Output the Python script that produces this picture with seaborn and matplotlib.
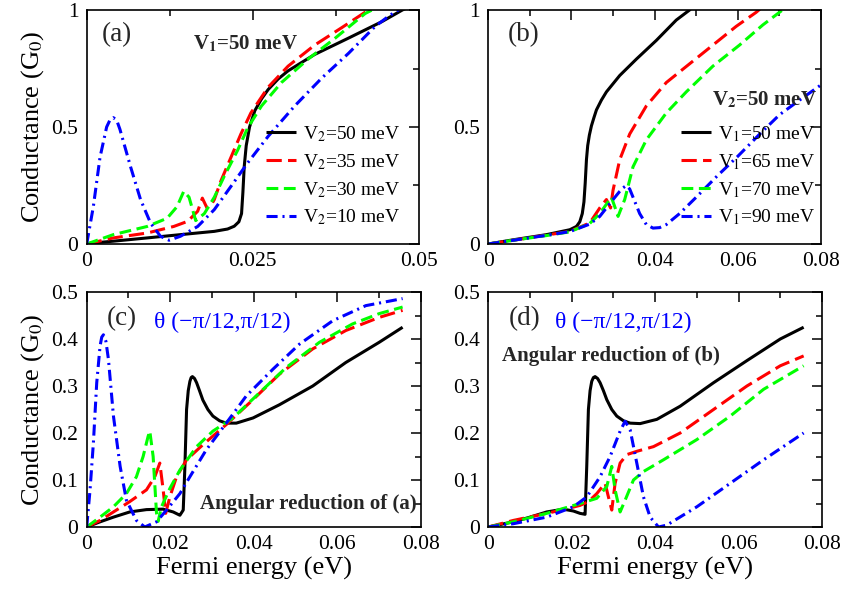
import matplotlib
matplotlib.use("Agg")
import matplotlib.pyplot as plt
import numpy as np
import pandas as pd
import seaborn as sns
from matplotlib.ticker import FixedLocator, FixedFormatter, MultipleLocator

# ---------------- data ----------------
# panel (a): V1 = 50 meV, varying V2
a50_x = [0, 0.002, 0.004, 0.0091, 0.0141, 0.0192, 0.0212, 0.0222, 0.0229, 0.0233, 0.0235, 0.0237, 0.0240, 0.0245, 0.0253, 0.0263, 0.0273, 0.0288, 0.0303, 0.0343, 0.0394, 0.0444, 0.0475, 0.049]
a50_y = [0, 0.007, 0.012, 0.026, 0.040, 0.054, 0.064, 0.076, 0.095, 0.13, 0.22, 0.33, 0.42, 0.50, 0.57, 0.62, 0.66, 0.705, 0.74, 0.81, 0.88, 0.95, 1.0, 1.02]
a35_x = [0, 0.004, 0.0091, 0.0131, 0.0152, 0.0167, 0.0174, 0.0181, 0.0187, 0.0192, 0.0202, 0.0217, 0.0232, 0.0247, 0.0273, 0.0303, 0.0343, 0.0384, 0.0424, 0.045]
a35_y = [0, 0.026, 0.047, 0.075, 0.097, 0.14, 0.196, 0.154, 0.165, 0.19, 0.27, 0.37, 0.47, 0.56, 0.67, 0.76, 0.85, 0.925, 1.0, 1.04]
a30_x = [0, 0.004, 0.0091, 0.0121, 0.0136, 0.0146, 0.0154, 0.0164, 0.0177, 0.0192, 0.0207, 0.0227, 0.0242, 0.0263, 0.0293, 0.0333, 0.0374, 0.0419, 0.045]
a30_y = [0, 0.04, 0.075, 0.11, 0.16, 0.225, 0.20, 0.10, 0.13, 0.20, 0.29, 0.40, 0.495, 0.59, 0.69, 0.79, 0.88, 0.985, 1.03]
a10_x = [0, 0.001, 0.002, 0.003, 0.0035, 0.004, 0.0045, 0.005, 0.0066, 0.0081, 0.0096, 0.0111, 0.0124, 0.0141, 0.0167, 0.0192, 0.0217, 0.0242, 0.0273, 0.0313, 0.0354, 0.0394, 0.0434, 0.0455, 0.048]
a10_y = [0, 0.16, 0.37, 0.50, 0.53, 0.54, 0.53, 0.49, 0.33, 0.19, 0.09, 0.033, 0.016, 0.033, 0.075, 0.147, 0.246, 0.346, 0.46, 0.59, 0.71, 0.815, 0.93, 0.975, 1.02]

# panel (b): V2 = 50 meV, varying V1
b50_x = [0, 0.006, 0.014, 0.0196, 0.0212, 0.0220, 0.0226, 0.0230, 0.0233, 0.0236, 0.0239, 0.0243, 0.0248, 0.0254, 0.026, 0.0272, 0.0284, 0.0316, 0.0356, 0.0404, 0.0452, 0.0484, 0.05]
b50_y = [0, 0.018, 0.04, 0.061, 0.075, 0.095, 0.13, 0.18, 0.26, 0.36, 0.42, 0.465, 0.505, 0.54, 0.573, 0.615, 0.65, 0.72, 0.79, 0.87, 0.957, 1.0, 1.03]
b65_x = [0, 0.006, 0.014, 0.0196, 0.0244, 0.0268, 0.0284, 0.0294, 0.030, 0.0316, 0.034, 0.038, 0.0428, 0.0484, 0.054, 0.0596, 0.0644, 0.067]
b65_y = [0, 0.016, 0.038, 0.054, 0.09, 0.154, 0.19, 0.154, 0.23, 0.36, 0.47, 0.59, 0.69, 0.77, 0.85, 0.93, 0.99, 1.03]
b70_x = [0, 0.006, 0.014, 0.0196, 0.0244, 0.0268, 0.0288, 0.0296, 0.0304, 0.0312, 0.0328, 0.0348, 0.038, 0.0428, 0.0476, 0.054, 0.0604, 0.066, 0.07, 0.073]
b70_y = [0, 0.016, 0.036, 0.052, 0.088, 0.13, 0.18, 0.20, 0.16, 0.118, 0.19, 0.33, 0.445, 0.56, 0.65, 0.76, 0.85, 0.936, 0.99, 1.03]
b90_x = [0, 0.006, 0.014, 0.0196, 0.0244, 0.0268, 0.030, 0.0316, 0.0324, 0.0332, 0.034, 0.0348, 0.0364, 0.038, 0.0396, 0.0412, 0.0428, 0.046, 0.05, 0.055, 0.06, 0.065, 0.07, 0.075, 0.08]
b90_y = [0, 0.016, 0.037, 0.053, 0.085, 0.118, 0.19, 0.225, 0.24, 0.25, 0.235, 0.20, 0.13, 0.083, 0.068, 0.07, 0.083, 0.13, 0.20, 0.29, 0.375, 0.465, 0.552, 0.617, 0.68]

# panel (c): angular reduction of (a)
c50_x = [0, 0.0032, 0.0064, 0.0103, 0.0143, 0.0183, 0.0207, 0.0223, 0.0231, 0.0235, 0.0239, 0.0243, 0.0247, 0.025, 0.0253, 0.0258, 0.0263, 0.027, 0.0278, 0.029, 0.0302, 0.0318, 0.0334, 0.0358, 0.0398, 0.0461, 0.0541, 0.062, 0.07, 0.0756]
c50_y = [0, 0.011, 0.021, 0.032, 0.037, 0.038, 0.032, 0.025, 0.036, 0.129, 0.25, 0.29, 0.31, 0.318, 0.32, 0.316, 0.307, 0.29, 0.27, 0.25, 0.236, 0.226, 0.221, 0.221, 0.232, 0.26, 0.30, 0.35, 0.393, 0.425]
c35_x = [0, 0.0032, 0.0064, 0.0103, 0.0143, 0.0163, 0.0175, 0.0183, 0.0189, 0.0199, 0.0215, 0.0239, 0.0278, 0.0334, 0.0398, 0.0461, 0.0541, 0.062, 0.07, 0.0756]
c35_y = [0, 0.014, 0.032, 0.054, 0.079, 0.107, 0.136, 0.079, 0.029, 0.064, 0.107, 0.143, 0.175, 0.218, 0.271, 0.325, 0.379, 0.418, 0.446, 0.461]
c30_x = [0, 0.0032, 0.0064, 0.0095, 0.0119, 0.0135, 0.0147, 0.0151, 0.0159, 0.0167, 0.0171, 0.0179, 0.0199, 0.0223, 0.0263, 0.0302, 0.035, 0.0414, 0.0477, 0.0557, 0.0636, 0.07, 0.0756]
c30_y = [0, 0.021, 0.043, 0.071, 0.107, 0.15, 0.193, 0.204, 0.15, 0.03, 0.012, 0.043, 0.082, 0.121, 0.171, 0.204, 0.232, 0.286, 0.339, 0.393, 0.432, 0.454, 0.468]
c10_x = [0, 0.0008, 0.0016, 0.0024, 0.0032, 0.0036, 0.004, 0.0046, 0.0052, 0.0064, 0.008, 0.0095, 0.0119, 0.0139, 0.0167, 0.0191, 0.0223, 0.0247, 0.0286, 0.0334, 0.0382, 0.0446, 0.0509, 0.0589, 0.0668, 0.0756]
c10_y = [0, 0.079, 0.179, 0.307, 0.385, 0.404, 0.409, 0.395, 0.357, 0.236, 0.129, 0.057, 0.014, 0.0, 0.011, 0.036, 0.071, 0.107, 0.164, 0.221, 0.279, 0.336, 0.389, 0.439, 0.471, 0.486]

# panel (d): angular reduction of (b)
d50_x = [0, 0.006, 0.01, 0.014, 0.018, 0.0204, 0.022, 0.0232, 0.0236, 0.024, 0.0244, 0.0248, 0.0252, 0.0256, 0.0262, 0.0268, 0.0276, 0.0284, 0.0296, 0.0308, 0.0324, 0.034, 0.0364, 0.0404, 0.046, 0.054, 0.062, 0.07, 0.0756]
d50_y = [0, 0.011, 0.021, 0.032, 0.038, 0.034, 0.029, 0.027, 0.129, 0.25, 0.29, 0.31, 0.318, 0.32, 0.316, 0.307, 0.29, 0.271, 0.25, 0.236, 0.226, 0.221, 0.22, 0.229, 0.257, 0.307, 0.354, 0.40, 0.425]
d65_x = [0, 0.006, 0.014, 0.018, 0.022, 0.024, 0.026, 0.028, 0.0288, 0.0296, 0.0304, 0.0316, 0.0332, 0.0356, 0.0396, 0.046, 0.054, 0.062, 0.07, 0.0756]
d65_y = [0, 0.014, 0.029, 0.037, 0.046, 0.054, 0.071, 0.093, 0.064, 0.036, 0.093, 0.136, 0.154, 0.161, 0.171, 0.2, 0.25, 0.3, 0.343, 0.364]
d70_x = [0, 0.006, 0.014, 0.022, 0.026, 0.0284, 0.0296, 0.0304, 0.0316, 0.0328, 0.0348, 0.0372, 0.042, 0.05, 0.058, 0.066, 0.0756]
d70_y = [0, 0.011, 0.029, 0.05, 0.061, 0.086, 0.129, 0.079, 0.032, 0.057, 0.1, 0.118, 0.143, 0.186, 0.236, 0.293, 0.343]
d90_x = [0, 0.006, 0.014, 0.0204, 0.0236, 0.0268, 0.0292, 0.0316, 0.0328, 0.034, 0.0356, 0.0372, 0.0388, 0.0408, 0.0428, 0.05, 0.058, 0.066, 0.0756]
d90_y = [0, 0.007, 0.021, 0.043, 0.064, 0.107, 0.15, 0.204, 0.225, 0.207, 0.136, 0.064, 0.021, 0.0, 0.004, 0.043, 0.093, 0.143, 0.2]

labels_a = ["V$_2$=50 meV", "V$_2$=35 meV", "V$_2$=30 meV", "V$_2$=10 meV"]
labels_b = ["V$_1$=50 meV", "V$_1$=65 meV", "V$_1$=70 meV", "V$_1$=90 meV"]

xticks_a = [0, 0.025, 0.05]
xticklabels_a = ["0", "0.025", "0.05"]
xticks_b = [0, 0.02, 0.04, 0.06, 0.08]
xticklabels_b = ["0", "0.02", "0.04", "0.06", "0.08"]
yticks_top = [0, 0.5, 1]
yticklabels_top = ["0", "0.5", "1"]
yticks_bot = [0, 0.1, 0.2, 0.3, 0.4, 0.5]
yticklabels_bot = ["0", "0.1", "0.2", "0.3", "0.4", "0.5"]

# ---------------- style ----------------
sns.set_theme(style="white")
plt.rcParams["font.family"] = ["Liberation Serif", "DejaVu Serif"]
plt.rcParams["mathtext.fontset"] = "stix"
plt.rcParams["lines.scale_dashes"] = False

colors = ["#000000", "#ff0000", "#00ff00", "#0000ff"]
dash_list = [(1, 0), (11, 4.5), (8.5, 4), (8, 3.5, 1.5, 3.5)]


def make_df(xs, ys, labels):
    frames = []
    for x, y, lab in zip(xs, ys, labels):
        frames.append(pd.DataFrame({"E": x, "G": y, "curve": lab}))
    return pd.concat(frames, ignore_index=True)


def draw(ax, xs, ys, labels):
    df = make_df(xs, ys, labels)
    sns.lineplot(data=df, x="E", y="G", hue="curve", style="curve",
                 hue_order=labels, style_order=labels,
                 palette=dict(zip(labels, colors)),
                 dashes=dict(zip(labels, dash_list)),
                 linewidth=2.2, sort=False, estimator=None,
                 legend=False, ax=ax)
    for ln in ax.lines:
        ln.set_solid_capstyle("butt")
        ln.set_dash_capstyle("butt")
        ln.set_solid_joinstyle("round")
        ln.set_dash_joinstyle("round")


def style_axes(ax, xlim, xticks, xtl, xminor, ylim, yticks, ytl, yminor):
    ax.set_xlim(*xlim)
    ax.set_ylim(*ylim)
    ax.xaxis.set_major_locator(FixedLocator(xticks))
    ax.xaxis.set_major_formatter(FixedFormatter(xtl))
    ax.xaxis.set_minor_locator(MultipleLocator(xminor))
    ax.yaxis.set_major_locator(FixedLocator(yticks))
    ax.yaxis.set_major_formatter(FixedFormatter(ytl))
    ax.yaxis.set_minor_locator(MultipleLocator(yminor))
    ax.tick_params(which="both", direction="in", top=True, right=True,
                   colors="black", width=1.1, labelsize=15.5)
    ax.tick_params(which="major", length=7, pad=6)
    ax.tick_params(which="minor", length=4)
    for s in ax.spines.values():
        s.set_color("black")
        s.set_linewidth(1.2)
    ax.set_xlabel("")
    ax.set_ylabel("")


fig = plt.figure(figsize=(8.45, 5.9), dpi=100)
W, H = 845, 590
def rect(l, t, r, b):
    return [l / W, 1 - b / H, (r - l) / W, (b - t) / H]

ax_a = fig.add_axes(rect(86.7, 10, 419, 244))
ax_b = fig.add_axes(rect(488.3, 10, 821, 244))
ax_c = fig.add_axes(rect(86.7, 292, 421, 527))
ax_d = fig.add_axes(rect(488.3, 292, 822, 527))

draw(ax_a, [a50_x, a35_x, a30_x, a10_x], [a50_y, a35_y, a30_y, a10_y], labels_a)
draw(ax_b, [b50_x, b65_x, b70_x, b90_x], [b50_y, b65_y, b70_y, b90_y], labels_b)
draw(ax_c, [c50_x, c35_x, c30_x, c10_x], [c50_y, c35_y, c30_y, c10_y], labels_a)
draw(ax_d, [d50_x, d65_x, d70_x, d90_x], [d50_y, d65_y, d70_y, d90_y], labels_b)

style_axes(ax_a, (0, 0.05), xticks_a, xticklabels_a, 0.0125, (0, 1), yticks_top, yticklabels_top, 0.25)
style_axes(ax_b, (0, 0.08), xticks_b, xticklabels_b, 0.01, (0, 1), yticks_top, yticklabels_top, 0.25)
style_axes(ax_c, (0, 0.08), xticks_b, xticklabels_b, 0.01, (0, 0.5), yticks_bot, yticklabels_bot, 0.05)
style_axes(ax_d, (0, 0.08), xticks_b, xticklabels_b, 0.01, (0, 0.5), yticks_bot, yticklabels_bot, 0.05)

for ax in (ax_a, ax_c):
    ax.set_ylabel("Conductance (G$_0$)", fontsize=19, color="black", labelpad=4)
for ax in (ax_c, ax_d):
    ax.set_xlabel("Fermi energy (eV)", fontsize=19, color="black", labelpad=2)

leg_kw = dict(loc="upper left", frameon=False, fontsize=14, handlelength=1.55,
              handletextpad=0.35, labelspacing=0.42, borderpad=0, borderaxespad=0)
ax_a.legend(ax_a.lines[:4], labels_a, bbox_to_anchor=(0.54, 0.512), **leg_kw)
ax_b.legend(ax_b.lines[:4], labels_b, bbox_to_anchor=(0.58, 0.512), **leg_kw)
for ax in (ax_a, ax_b):
    for t in ax.get_legend().get_texts():
        t.set_color("black")

# panel tags and annotations
ax_a.text(0.046, 0.95, "(a)", transform=ax_a.transAxes, fontsize=19.5, va="top", ha="left")
ax_b.text(0.057, 0.95, "(b)", transform=ax_b.transAxes, fontsize=19.5, va="top", ha="left")
ax_c.text(0.06, 0.94, "(c)", transform=ax_c.transAxes, fontsize=19.5, va="top", ha="left")
ax_d.text(0.06, 0.94, "(d)", transform=ax_d.transAxes, fontsize=19.5, va="top", ha="left")

ax_a.text(0.32, 0.855, "V$_\\mathbf{1}$=50 meV", transform=ax_a.transAxes, fontsize=15,
          fontweight="bold", va="center", ha="left")
ax_b.text(0.673, 0.615, "V$_\\mathbf{2}$=50 meV", transform=ax_b.transAxes, fontsize=15,
          fontweight="bold", va="center", ha="left")
ax_c.text(0.2, 0.872, "θ (−π/12,π/12)", transform=ax_c.transAxes, fontsize=17,
          color="#0000ff", va="center", ha="left")
ax_d.text(0.2, 0.872, "θ (−π/12,π/12)", transform=ax_d.transAxes, fontsize=17,
          color="#0000ff", va="center", ha="left")
ax_c.text(0.338, 0.10, "Angular reduction of (a)", transform=ax_c.transAxes, fontsize=15,
          fontweight="bold", va="center", ha="left")
ax_d.text(0.042, 0.728, "Angular reduction of (b)", transform=ax_d.transAxes, fontsize=15,
          fontweight="bold", va="center", ha="left")

fig.savefig("out.png", dpi=100, facecolor="white")
